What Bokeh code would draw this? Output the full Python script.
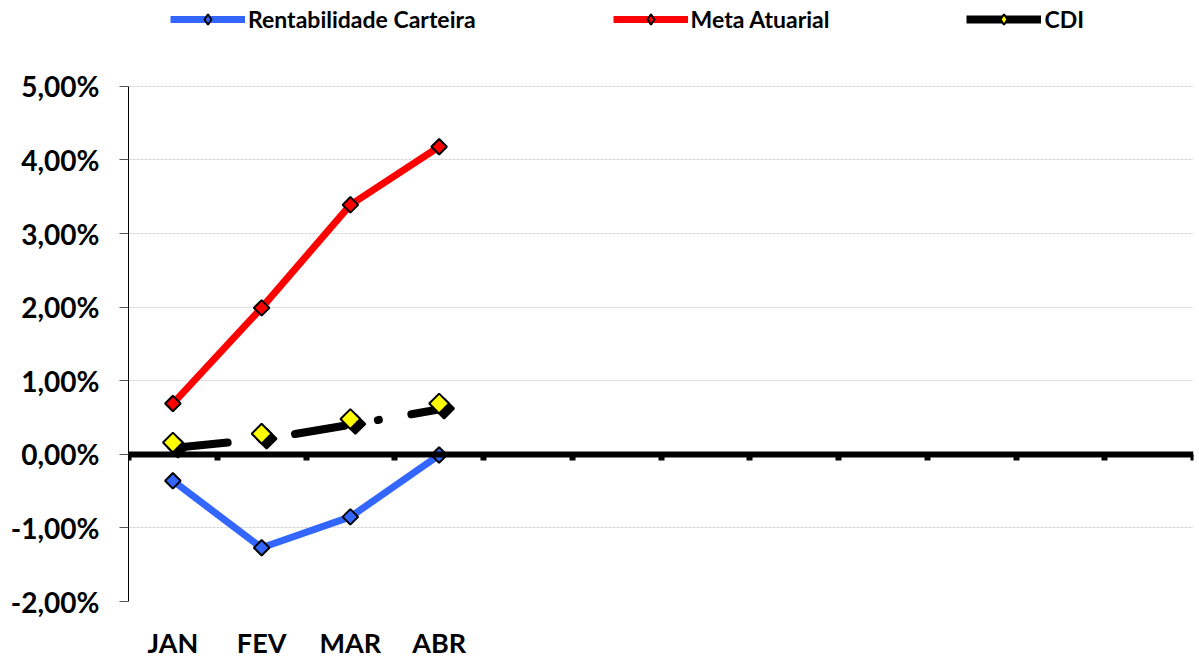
import math
from bokeh.plotting import figure
from bokeh.models import (LinearAxis, FixedTicker, Legend, LegendItem, Range1d)
from bokeh.embed import file_html
from bokeh.resources import INLINE

# ---- data ----
months = ["JAN", "FEV", "MAR", "ABR", "MAI", "JUN", "JUL", "AGO", "SET", "OUT", "NOV", "DEZ"]
month_labels = ["JAN", "FEV", "MAR", "ABR", "", "", "", "", "", "", "", ""]
rentabilidade = [-0.36, -1.27, -0.85, -0.01]
meta_atuarial = [0.69, 1.99, 3.39, 4.18]
cdi = [0.16, 0.28, 0.48, 0.69]
y_ticks = [-2, -1, 0, 1, 2, 3, 4, 5]
y_tick_labels = ["-2,00%", "-1,00%", "0,00%", "1,00%", "2,00%", "3,00%", "4,00%", "5,00%"]

FONT = "Lato"
NAN = float("nan")
n_months = len(months)
x_pos = list(range(1, n_months + 1))
x_data = x_pos[:len(rentabilidade)]
label_ticks = [x for x, l in zip(x_pos, month_labels) if l]

# layout (screen pixels)
W, H = 1199, 661
PLOT_L, PLOT_R, PLOT_T, PLOT_B = 128, 1193, 86, 602   # area spanned by the y ticks
TOP = 4                                               # frame top (legend lives inside frame)
BL, BR, BT, BB = PLOT_L, W - PLOT_R, TOP, H - PLOT_B
ppu = (PLOT_B - PLOT_T) / (y_ticks[-1] - y_ticks[0])   # px per 1%
y_top = y_ticks[-1] + (PLOT_T - TOP) / ppu

p = figure(width=W, height=H, output_backend="svg", toolbar_location=None,
           x_axis_location=None,
           x_range=Range1d(0.5, n_months + 0.5), y_range=Range1d(y_ticks[0], y_top),
           min_border_left=BL, min_border_right=BR, min_border_top=BT, min_border_bottom=BB)
p.outline_line_color = None
p.background_fill_color = "white"
p.xgrid.visible = False

dx = 5 * n_months / (PLOT_R - PLOT_L)
dy = -5 / ppu

# y axis
p.yaxis.ticker = FixedTicker(ticks=y_ticks)
p.yaxis.bounds = (y_ticks[0], y_ticks[-1])
p.yaxis.major_label_overrides = {t: l for t, l in zip(y_ticks, y_tick_labels)}
p.yaxis.major_label_text_font = FONT
p.yaxis.major_label_text_font_style = "bold"
p.yaxis.major_label_text_font_size = "28px"
p.yaxis.major_label_text_color = "black"
p.yaxis.axis_line_color = "black"
p.yaxis.major_tick_out = 9
p.yaxis.major_tick_in = 0
p.yaxis.major_tick_line_color = "#555555"
p.yaxis.minor_tick_line_color = None
p.yaxis.major_label_standoff = 20

p.ygrid.ticker = FixedTicker(ticks=y_ticks)
p.ygrid.grid_line_color = "#d4d4d4"
p.ygrid.grid_line_dash = "3 1"

# zero axis (drawn at y = 0, ticks pointing down)
zero_axis = LinearAxis(fixed_location=0,
                       ticker=FixedTicker(ticks=[i + 0.5 for i in range(n_months + 1)]),
                       major_label_text_color=None, major_label_text_font_size="2px",
                       major_label_standoff=0,
                       axis_line_width=6, axis_line_color="black",
                       major_tick_out=0, major_tick_in=6, major_tick_line_width=6,
                       major_tick_line_color="black", minor_tick_line_color=None)
p.add_layout(zero_axis, "above")

# month label axis
month_axis = LinearAxis(ticker=FixedTicker(ticks=label_ticks),
                        major_label_overrides={t: l for t, l in zip(x_pos, month_labels) if l},
                        major_label_text_font=FONT, major_label_text_font_style="bold",
                        major_label_text_font_size="27px", major_label_text_color="black",
                        axis_line_color=None, major_tick_line_color=None,
                        minor_tick_line_color=None, major_label_standoff=18)
p.add_layout(month_axis, "below")

ang = math.pi / 4
BLUE, RED, YELLOW = "#3366ff", "#ff0000", "#ffff00"

r1_line = p.line(x_data, rentabilidade, line_color=BLUE, line_width=7)
p.scatter(x_data, rentabilidade, marker="square", angle=ang, size=11,
          fill_color=BLUE, line_color="black", line_width=2)

r2_line = p.line(x_data, meta_atuarial, line_color=RED, line_width=7)
p.scatter(x_data, meta_atuarial, marker="square", angle=ang, size=11,
          fill_color=RED, line_color="black", line_width=2)

cdi_sx = [x + dx for x in x_data]
cdi_sy = [y + dy for y in cdi]
p.line(cdi_sx, cdi_sy, line_color="black", line_width=8, line_dash="50 34 1 33", line_cap="round")
p.scatter(cdi_sx, cdi_sy, marker="square", angle=ang, size=14, fill_color="black",
          line_color="black", line_width=2)
p.scatter(x_data, cdi, marker="square", angle=ang, size=14,
          fill_color=YELLOW, line_color="black", line_width=2)

# legend-only glyphs (no data shown)
leg_mk1 = p.scatter([NAN], [NAN], marker="diamond", fill_color=BLUE, line_color="black", line_width=2)
leg_mk2 = p.scatter([NAN], [NAN], marker="diamond", fill_color=RED, line_color="black", line_width=2)
leg_ln3 = p.line([NAN], [NAN], line_color="black", line_width=8)
leg_mk3 = p.scatter([NAN], [NAN], marker="diamond", fill_color=YELLOW, line_color="black", line_width=2)

legend = Legend(items=[
    LegendItem(label="Rentabilidade Carteira", renderers=[r1_line, leg_mk1]),
    LegendItem(label="Meta Atuarial", renderers=[r2_line, leg_mk2]),
    LegendItem(label="CDI", renderers=[leg_ln3, leg_mk3]),
], orientation="horizontal", location=(42, PLOT_B - 34), spacing=137, glyph_width=75,
    glyph_height=26, label_standoff=3, padding=0, margin=0, border_line_color=None,
    background_fill_alpha=0,
    label_text_font=FONT, label_text_font_style="bold", label_text_font_size="23px",
    label_text_color="black")
p.add_layout(legend, "center")

open("out.html", "w").write(file_html(p, INLINE))
